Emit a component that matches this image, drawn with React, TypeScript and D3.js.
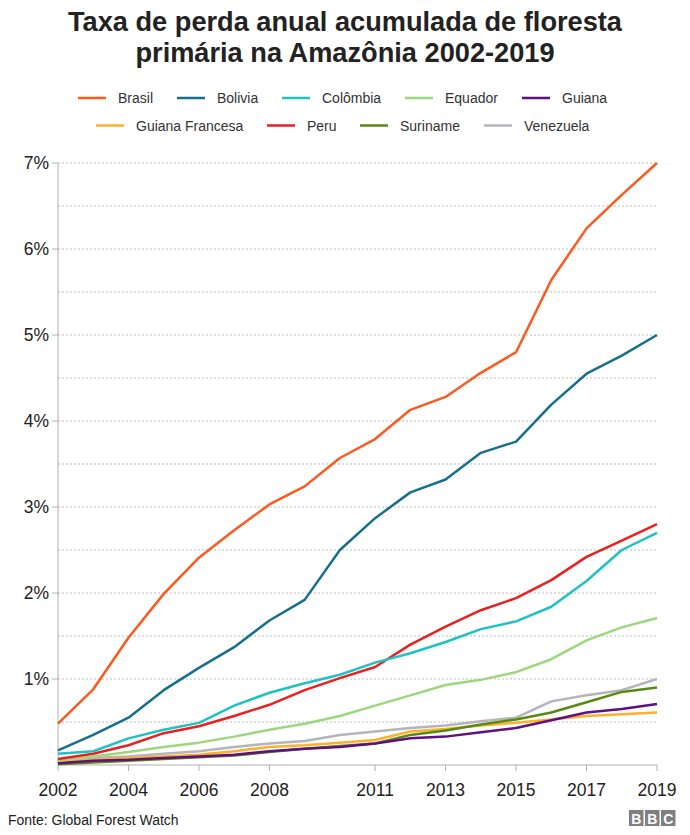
import React from "react";
import * as d3 from "d3";

const years = [2002, 2003, 2004, 2005, 2006, 2007, 2008, 2009, 2010, 2011, 2012, 2013, 2014, 2015, 2016, 2017, 2018, 2019];
const xTickYears = [2002, 2004, 2006, 2008, 2011, 2013, 2015, 2017, 2019];
const yTicks = [0, 1, 2, 3, 4, 5, 6, 7];
const gridValues = [0.5, 1, 1.5, 2, 2.5, 3, 3.5, 4, 4.5, 5, 5.5, 6, 6.5, 7];

const brasil = [0.48, 0.88, 1.48, 1.99, 2.41, 2.73, 3.03, 3.24, 3.57, 3.79, 4.13, 4.28, 4.56, 4.80, 5.64, 6.24, 6.63, 7.0];
const bolivia = [0.17, 0.35, 0.55, 0.87, 1.13, 1.37, 1.68, 1.92, 2.50, 2.87, 3.17, 3.32, 3.63, 3.76, 4.19, 4.55, 4.76, 5.0];
const colombia = [0.13, 0.16, 0.31, 0.41, 0.49, 0.69, 0.84, 0.95, 1.05, 1.19, 1.30, 1.43, 1.58, 1.67, 1.84, 2.14, 2.50, 2.70];
const equador = [0.05, 0.10, 0.15, 0.21, 0.26, 0.33, 0.41, 0.48, 0.57, 0.69, 0.81, 0.93, 0.99, 1.08, 1.23, 1.45, 1.60, 1.71];
const guiana = [0.02, 0.05, 0.06, 0.08, 0.10, 0.12, 0.16, 0.19, 0.21, 0.25, 0.31, 0.33, 0.38, 0.43, 0.52, 0.61, 0.65, 0.71];
const guianaFrancesa = [0.03, 0.06, 0.08, 0.10, 0.12, 0.16, 0.21, 0.23, 0.26, 0.29, 0.39, 0.42, 0.46, 0.49, 0.53, 0.57, 0.59, 0.61];
const peru = [0.07, 0.13, 0.23, 0.37, 0.45, 0.57, 0.70, 0.87, 1.01, 1.14, 1.40, 1.61, 1.80, 1.94, 2.15, 2.42, 2.61, 2.80];
const suriname = [0.01, 0.03, 0.05, 0.07, 0.09, 0.11, 0.15, 0.19, 0.22, 0.25, 0.35, 0.40, 0.47, 0.53, 0.61, 0.73, 0.85, 0.90];
const venezuela = [0.03, 0.08, 0.10, 0.13, 0.16, 0.21, 0.25, 0.28, 0.35, 0.39, 0.43, 0.46, 0.51, 0.55, 0.74, 0.81, 0.87, 1.00];

const seriesNames = ["Brasil", "Bolivia", "Colômbia", "Equador", "Guiana", "Guiana Francesa", "Peru", "Suriname", "Venezuela"];
const seriesValues = [brasil, bolivia, colombia, equador, guiana, guianaFrancesa, peru, suriname, venezuela];
const seriesColors = ["#fa5a1e", "#17708b", "#1fc2c3", "#9dd77d", "#600f7e", "#fcb02d", "#e8201f", "#588a12", "#b4b4bb"];
// draw order (back to front)
const drawOrder = [8, 5, 7, 4, 3, 6, 2, 1, 0];

const legendRows = [
  [
    { i: 0, x: 78 },
    { i: 1, x: 177 },
    { i: 2, x: 282 },
    { i: 3, x: 405 },
    { i: 4, x: 522 },
  ],
  [
    { i: 5, x: 96 },
    { i: 6, x: 267 },
    { i: 7, x: 360 },
    { i: 8, x: 484 },
  ],
];
const legendRowY = [98, 125.5];

const FONT = "'Liberation Sans', Arial, Helvetica, sans-serif";

export default function App() {
  const W = 690;
  const H = 835;
  const left = 58;
  const right = 657;
  const top = 163;
  const bottom = 765;

  const x = d3.scaleLinear().domain([2002, 2019]).range([left, right]);
  const y = d3.scaleLinear().domain([0, 7]).range([bottom, top]);
  const line = d3
    .line<number>()
    .x((_, i) => x(years[i]))
    .y((d) => y(d));

  return (
    <svg width={W} height={H} style={{ position: "absolute", left: 0, top: 0, background: "#fff" }} fontFamily={FONT}>
      <text x={345} y={31} textAnchor="middle" fontSize={27.2} fontWeight="bold" fill="#222">
        Taxa de perda anual acumulada de floresta
      </text>
      <text x={345} y={62} textAnchor="middle" fontSize={27.2} fontWeight="bold" fill="#222">
        primária na Amazônia 2002-2019
      </text>

      {legendRows.map((row, r) =>
        row.map(({ i, x: lx }) => (
          <g key={`${r}-${i}`}>
            <line x1={lx} x2={lx + 28} y1={legendRowY[r]} y2={legendRowY[r]} stroke={seriesColors[i]} strokeWidth={2.5} />
            <text x={lx + 40} y={legendRowY[r] + 5} fontSize={14} fill="#333">
              {seriesNames[i]}
            </text>
          </g>
        ))
      )}

      {gridValues.map((v) => (
        <line key={`g${v}`} x1={left} x2={right} y1={y(v)} y2={y(v)} stroke="#bbb" strokeWidth={1} strokeDasharray="2,2" />
      ))}

      <line x1={left} x2={left} y1={top} y2={bottom} stroke="#b0b0b0" strokeWidth={1} />
      {yTicks.map((v) => (
        <g key={`y${v}`}>
          {v > 0 && <line x1={left - 6} x2={left} y1={y(v)} y2={y(v)} stroke="#b0b0b0" />}
          {v > 0 && (
            <text x={left - 9} y={y(v) + 6} textAnchor="end" fontSize={17.5} fill="#222">
              {v}%
            </text>
          )}
        </g>
      ))}

      <line x1={left} x2={right} y1={bottom} y2={bottom} stroke="#b0b0b0" strokeWidth={1} />
      {xTickYears.map((yr) => (
        <g key={`x${yr}`}>
          <line x1={x(yr)} x2={x(yr)} y1={bottom} y2={bottom + 6} stroke="#b0b0b0" />
          <text x={x(yr)} y={796} textAnchor="middle" fontSize={17.5} fill="#222">
            {yr}
          </text>
        </g>
      ))}

      {drawOrder.map((i) => (
        <path key={`s${i}`} d={line(seriesValues[i]) || ""} fill="none" stroke={seriesColors[i]} strokeWidth={2.5} strokeLinejoin="round" />
      ))}

      <text x={8} y={825} fontSize={14} fill="#222">
        Fonte: Global Forest Watch
      </text>

      {["B", "B", "C"].map((c, k) => (
        <g key={`bbc${k}`}>
          <rect x={629 + k * 16} y={810} width={14.5} height={16} fill="#808080" />
          <text x={629 + k * 16 + 7.25} y={823.5} textAnchor="middle" fontSize={14} fontWeight="bold" fill="#fff">
            {c}
          </text>
        </g>
      ))}
    </svg>
  );
}
